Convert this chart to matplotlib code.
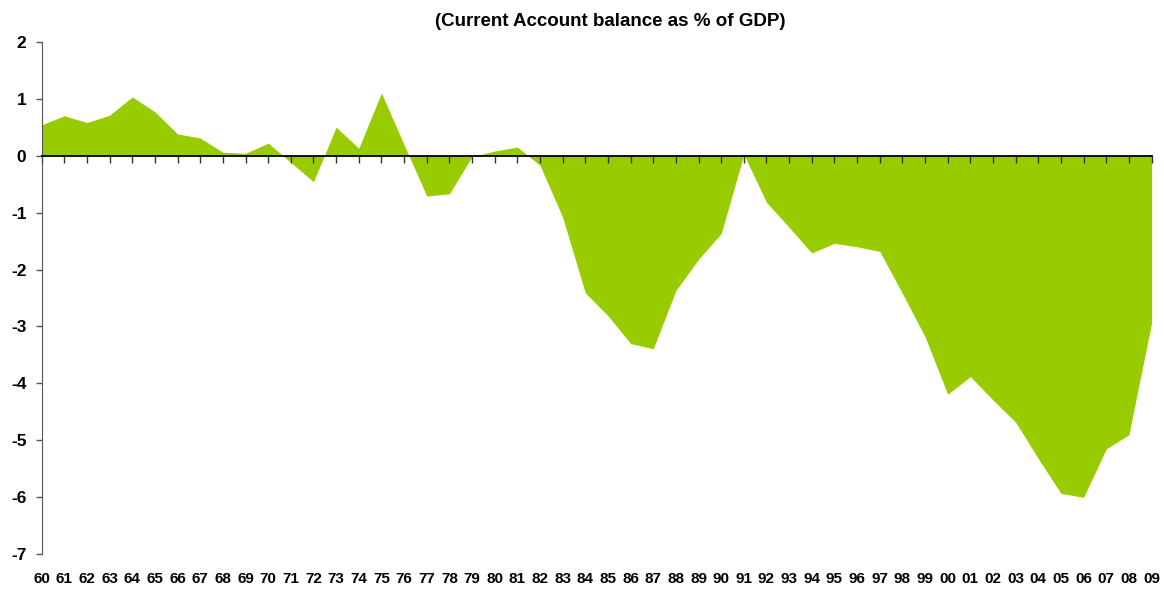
import matplotlib
matplotlib.use("Agg")
import matplotlib.pyplot as plt
import numpy as np

# ── Data ───────────────────────────────────────────────────────────────────
year_labels = ["60", "61", "62", "63", "64", "65", "66", "67", "68", "69",
               "70", "71", "72", "73", "74", "75", "76", "77", "78", "79",
               "80", "81", "82", "83", "84", "85", "86", "87", "88", "89",
               "90", "91", "92", "93", "94", "95", "96", "97", "98", "99",
               "00", "01", "02", "03", "04", "05", "06", "07", "08", "09"]
balance = [0.54, 0.70, 0.58, 0.71, 1.03, 0.77, 0.38, 0.31, 0.06, 0.04,
           0.22, -0.12, -0.46, 0.50, 0.13, 1.10, 0.19, -0.71, -0.67, -0.02,
           0.08, 0.15, -0.17, -1.08, -2.41, -2.81, -3.30, -3.39, -2.37, -1.82,
           -1.37, 0.02, -0.82, -1.26, -1.71, -1.54, -1.60, -1.68, -2.42, -3.18,
           -4.19, -3.88, -4.29, -4.68, -5.32, -5.93, -6.00, -5.15, -4.90, -2.94]
y_ticks = [2, 1, 0, -1, -2, -3, -4, -5, -6, -7]
title = "(Current Account balance as % of GDP)"

GREEN = "#99CC00"
plt.rcParams["font.family"] = ["Liberation Sans", "DejaVu Sans"]

# ── Figure ─────────────────────────────────────────────────────────────────
fig = plt.figure(figsize=(11.64, 5.89), dpi=100)
ax = fig.add_axes([0.0358, 0.0589, 0.9535, 0.8703])

x = np.arange(len(balance))
ax.fill_between(x, balance, 0, color=GREEN, linewidth=0)

ax.set_xlim(0, len(balance) - 1)
ax.set_ylim(-7, 2)
ax.set_yticks(y_ticks)
ax.set_yticklabels([str(v) for v in y_ticks], fontsize=12.5, fontweight="bold")
ax.tick_params(axis="y", direction="out", length=4, width=1, color="#555555", pad=7)

# zero line carries the x ticks, labels sit at the bottom
for side in ("top", "right"):
    ax.spines[side].set_visible(False)
ax.spines["left"].set_color("#555555")
ax.spines["bottom"].set_position(("data", 0))
ax.spines["bottom"].set_color("black")
ax.spines["bottom"].set_linewidth(1.3)
ax.set_xticks(x)
ax.tick_params(axis="x", direction="out", length=5, width=1, color="#333333",
               labelbottom=False)

sec = ax.secondary_xaxis("bottom")
sec.set_xticks(x)
sec.set_xticklabels(year_labels, fontsize=11, fontweight="bold")
sec.tick_params(length=0, pad=13)
sec.spines["bottom"].set_visible(False)

fig.text(610 / 1164, 1 - 21 / 589, title, ha="center", va="center",
         fontsize=13.5, fontweight="bold")

fig.savefig("out.png", dpi=100)
